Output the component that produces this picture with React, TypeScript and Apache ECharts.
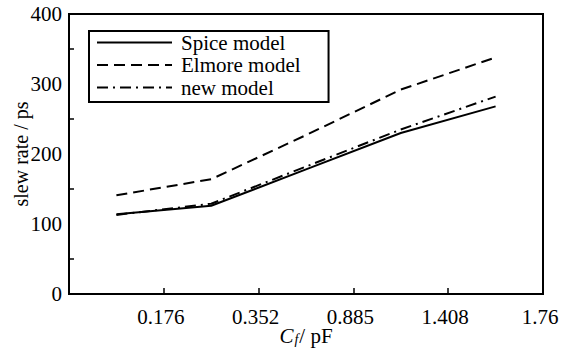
import React, { useEffect, useRef } from "react";
import * as echarts from "echarts";

const xTickLabels = ["0.176", "0.352", "0.885", "1.408", "1.76"];
const xPositions = [0.5, 1.5, 2.5, 3.5, 4.5];
const spice = [114, 126, 178, 230, 268];
const elmore = [141, 164, 227, 292, 338];
const newModel = [113, 129, 182, 235, 282];
const seriesNames = ["Spice model", "Elmore model", "new model"];

const FONT = "'Liberation Serif', 'Times New Roman', serif";

export default function App() {
  const ref = useRef<HTMLDivElement>(null);
  useEffect(() => {
    if (!ref.current) return;
    const chart = echarts.init(ref.current, undefined, { renderer: "svg" });
    const pairs = (vals: number[]) => vals.map((v, i) => [xPositions[i], v]);
    chart.setOption({
      animation: false,
      backgroundColor: "#ffffff",
      textStyle: { fontFamily: FONT, color: "#000" },
      grid: {
        left: 69,
        right: 18,
        top: 14,
        bottom: 57,
        containLabel: false,
        outerBoundsMode: "none",
        show: true,
        borderColor: "#000",
        borderWidth: 2,
        backgroundColor: "transparent",
      },
      legend: {
        orient: "vertical",
        left: 89,
        top: 31,
        itemWidth: 75,
        itemHeight: 20,
        itemGap: 1.5,
        borderColor: "#000",
        borderWidth: 2,
        padding: [1, 28, 4, 7],
        data: seriesNames,
        itemStyle: { opacity: 0 },
        textStyle: {
          fontFamily: FONT,
          fontSize: 21,
          lineHeight: 20,
          color: "#000",
          padding: [0, 0, 0, 4],
        },
      },
      xAxis: {
        type: "value",
        min: 0,
        max: 5,
        interval: 1,
        axisLine: { show: true, lineStyle: { color: "#000", width: 2 } },
        axisTick: { show: true, inside: true, length: 6, lineStyle: { color: "#000", width: 1.5 } },
        splitLine: { show: false },
        axisLabel: {
          fontFamily: FONT,
          fontSize: 21,
          color: "#000",
          margin: 12,
          padding: [0, 6, 0, 0],
          formatter: (v: number) => (v >= 1 ? xTickLabels[Math.round(v) - 1] ?? "" : ""),
        },
        name: "{i|C}{sub|f}{n|/ pF}",
        nameLocation: "middle",
        nameGap: 31,
        nameMoveOverlap: false,
        nameTextStyle: {
          fontFamily: FONT,
          fontSize: 21,
          color: "#000",
          rich: {
            i: { fontFamily: FONT, fontSize: 21, fontStyle: "italic", color: "#000" },
            sub: { fontFamily: FONT, fontSize: 14, fontStyle: "italic", color: "#000", verticalAlign: "bottom", padding: [6, 1, 0, 1] },
            n: { fontFamily: FONT, fontSize: 21, color: "#000" },
          },
        },
      },
      yAxis: {
        type: "value",
        min: 0,
        max: 400,
        interval: 100,
        axisLine: { show: true, lineStyle: { color: "#000", width: 2 } },
        axisTick: { show: false, inside: true },
        minorTick: { show: true, splitNumber: 2, length: 5, lineStyle: { color: "#000", width: 1.5 } },
        splitLine: { show: false },
        axisLabel: { fontFamily: FONT, fontSize: 21, color: "#000", margin: 7 },
        name: "slew rate / ps",
        nameLocation: "middle",
        nameGap: 38,
        nameMoveOverlap: false,
        nameTextStyle: { fontFamily: FONT, fontSize: 20, color: "#000" },
      },
      series: [
        {
          name: seriesNames[0],
          type: "line",
          data: pairs(spice),
          symbol: "none",
          lineStyle: { color: "#000", width: 2, type: "solid" },
          itemStyle: { color: "#000" },
        },
        {
          name: seriesNames[1],
          type: "line",
          data: pairs(elmore),
          symbol: "none",
          lineStyle: { color: "#000", width: 2, type: [11, 6] },
          itemStyle: { color: "#000" },
        },
        {
          name: seriesNames[2],
          type: "line",
          data: pairs(newModel),
          symbol: "none",
          lineStyle: { color: "#000", width: 2, type: [11, 5, 2, 5] },
          itemStyle: { color: "#000" },
        },
      ],
    });
    return () => chart.dispose();
  }, []);
  return (
    <div
      ref={ref}
      style={{ position: "fixed", left: 0, top: 0, width: 561, height: 351 }}
    />
  );
}
